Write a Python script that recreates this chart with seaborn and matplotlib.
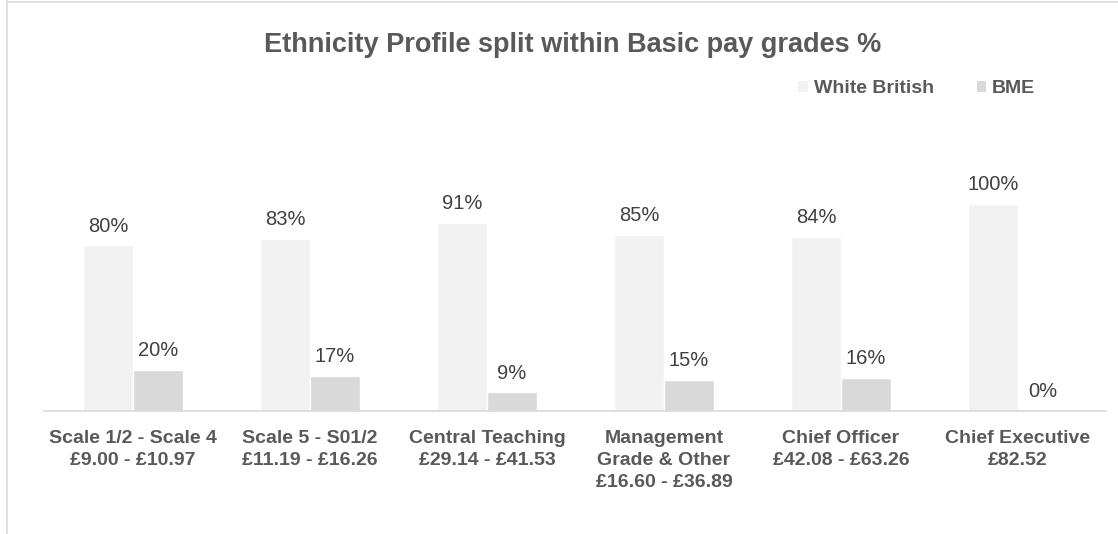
import pandas as pd
import numpy as np
import matplotlib
matplotlib.use("Agg")
import matplotlib.pyplot as plt
import seaborn as sns
from matplotlib.patches import Patch
from matplotlib.lines import Line2D

categories = ["Scale 1/2 - Scale 4\n£9.00 - £10.97",
              "Scale 5 - S01/2\n£11.19 - £16.26",
              "Central Teaching\n£29.14 - £41.53",
              "Management\nGrade & Other\n£16.60 - £36.89",
              "Chief Officer\n£42.08 - £63.26",
              "Chief Executive\n£82.52"]
white_british = [80, 83, 91, 85, 84, 100]
bme = [20, 17, 9, 15, 16, 0]
series = ["White British", "BME"]
colors = ["#F2F2F2", "#D9D9D9"]

df = pd.DataFrame({
    "grade": categories * 2,
    "group": [series[0]] * len(categories) + [series[1]] * len(categories),
    "value": white_british + bme,
})

sns.set_style("white")
plt.rcParams["font.family"] = ["Liberation Sans", "DejaVu Sans"]

fig = plt.figure(figsize=(11.18, 5.34), dpi=100)
ax = fig.add_axes([0.0398, 0.2303, 0.9499, 0.5263])

sns.barplot(data=df, x="grade", y="value", hue="group", palette=colors,
            width=0.565, ax=ax, legend=False, saturation=1)
ax.set_ylim(0, 135.7)
ax.set_xlim(-0.5, len(categories) - 0.5)

for cont in ax.containers:
    ax.bar_label(cont, labels=[f"{v:.0f}%" for v in cont.datavalues],
                 padding=7, fontsize=14.5, color="#404040")

for s in ["top", "right", "left"]:
    ax.spines[s].set_visible(False)
ax.spines["bottom"].set_color("#D9D9D9")
ax.spines["bottom"].set_linewidth(1.2)
ax.set_yticks([])
ax.set_xlabel("")
ax.set_ylabel("")
ax.tick_params(axis="x", length=0, pad=14)
for lab in ax.get_xticklabels():
    lab.set_fontsize(14)
    lab.set_fontweight("bold")
    lab.set_color("#595959")
    lab.set_linespacing(1.35)

fig.text(0.512, 0.915, "Ethnicity Profile split within Basic pay grades %",
         ha="center", va="center", fontsize=19.5, fontweight="bold", color="#595959")

handles = [Patch(facecolor=c, edgecolor="none") for c in colors]
leg = fig.legend(handles, series, loc="center", bbox_to_anchor=(0.82, 0.834),
                 ncol=2, frameon=False, handlelength=0.5, handleheight=0.5,
                 columnspacing=2.2, handletextpad=0.3,
                 prop={"size": 14, "weight": "bold"})
for t in leg.get_texts():
    t.set_color("#595959")

# chart area border remnants (left and top)
fig.add_artist(Line2D([0.0065, 0.0065], [0, 1], color="#D9D9D9", lw=1.2))
fig.add_artist(Line2D([0.0065, 1], [0.996, 0.996], color="#D9D9D9", lw=1.2))

fig.savefig("out.png", dpi=100)
